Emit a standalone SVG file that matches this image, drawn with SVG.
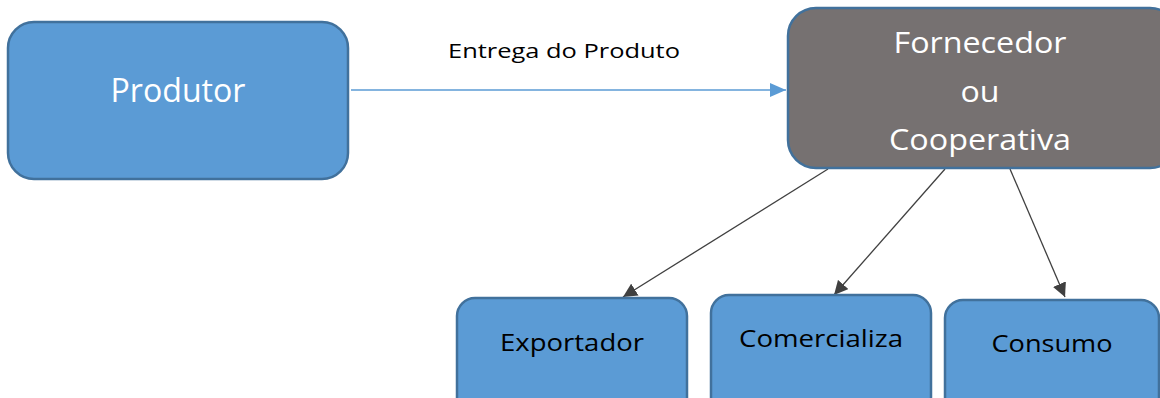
<svg xmlns="http://www.w3.org/2000/svg" width="1160" height="398" viewBox="0 0 1160 398">
<style>
.box{fill:#5B9BD5;stroke:#41719C;stroke-width:2.5}
.gbox{fill:#767171;stroke:#41719C;stroke-width:2.5}
.wt{fill:#ffffff;font-family:"Open Sans","Noto Sans",sans-serif;font-size:30px;text-anchor:middle}
.bt{fill:#000000;font-family:"Open Sans","Noto Sans",sans-serif;font-size:24px;text-anchor:middle}
.lbl{fill:#000000;font-family:"Open Sans","Noto Sans",sans-serif;font-size:20px;text-anchor:middle}
.dk{stroke:#404040;stroke-width:1.3;fill:none}
</style>
<defs>
<marker id="ad" markerWidth="14" markerHeight="14" refX="12" refY="6" orient="auto" markerUnits="userSpaceOnUse" viewBox="0 0 12 12"><path d="M0,0 L12,6 L0,12 z" fill="#404040"/></marker>
</defs>
<g id="connectors">
<line x1="351" y1="90" x2="786" y2="90" stroke="#5B9BD5" stroke-width="1.5"/>
<path d="M770,83 L786,90 L770,97 z" fill="#5B9BD5"/>
<line class="dk" x1="828" y1="169" x2="623" y2="297" marker-end="url(#ad)"/>
<line class="dk" x1="945" y1="169" x2="834" y2="295" marker-end="url(#ad)"/>
<line class="dk" x1="1010" y1="169" x2="1065" y2="297" marker-end="url(#ad)"/>
<text class="lbl" x="564" y="58" textLength="232" lengthAdjust="spacingAndGlyphs">Entrega do Produto</text>
</g>
<g id="produtor">
<rect class="box" x="8" y="22" width="340" height="157" rx="26" ry="26"/>
<text class="wt" x="178" y="102" style="font-size:33px" textLength="135" lengthAdjust="spacingAndGlyphs">Produtor</text>
</g>
<g id="fornecedor">
<rect class="gbox" x="788" y="8" width="390" height="160" rx="28" ry="28"/>
<text class="wt" x="980" y="53" textLength="173" lengthAdjust="spacingAndGlyphs">Fornecedor</text>
<text class="wt" x="980" y="102" textLength="39" lengthAdjust="spacingAndGlyphs">ou</text>
<text class="wt" x="980" y="150" textLength="182" lengthAdjust="spacingAndGlyphs">Cooperativa</text>
</g>
<g id="exportador">
<rect class="box" x="457" y="298" width="230" height="120" rx="18" ry="18"/>
<text class="bt" x="572" y="351" textLength="144" lengthAdjust="spacingAndGlyphs">Exportador</text>
</g>
<g id="comercializa">
<rect class="box" x="711" y="295" width="220" height="120" rx="18" ry="18"/>
<text class="bt" x="821" y="347" textLength="164" lengthAdjust="spacingAndGlyphs">Comercializa</text>
</g>
<g id="consumo">
<rect class="box" x="945" y="300" width="214" height="120" rx="18" ry="18"/>
<text class="bt" x="1052" y="352" textLength="121" lengthAdjust="spacingAndGlyphs">Consumo</text>
</g>
</svg>
